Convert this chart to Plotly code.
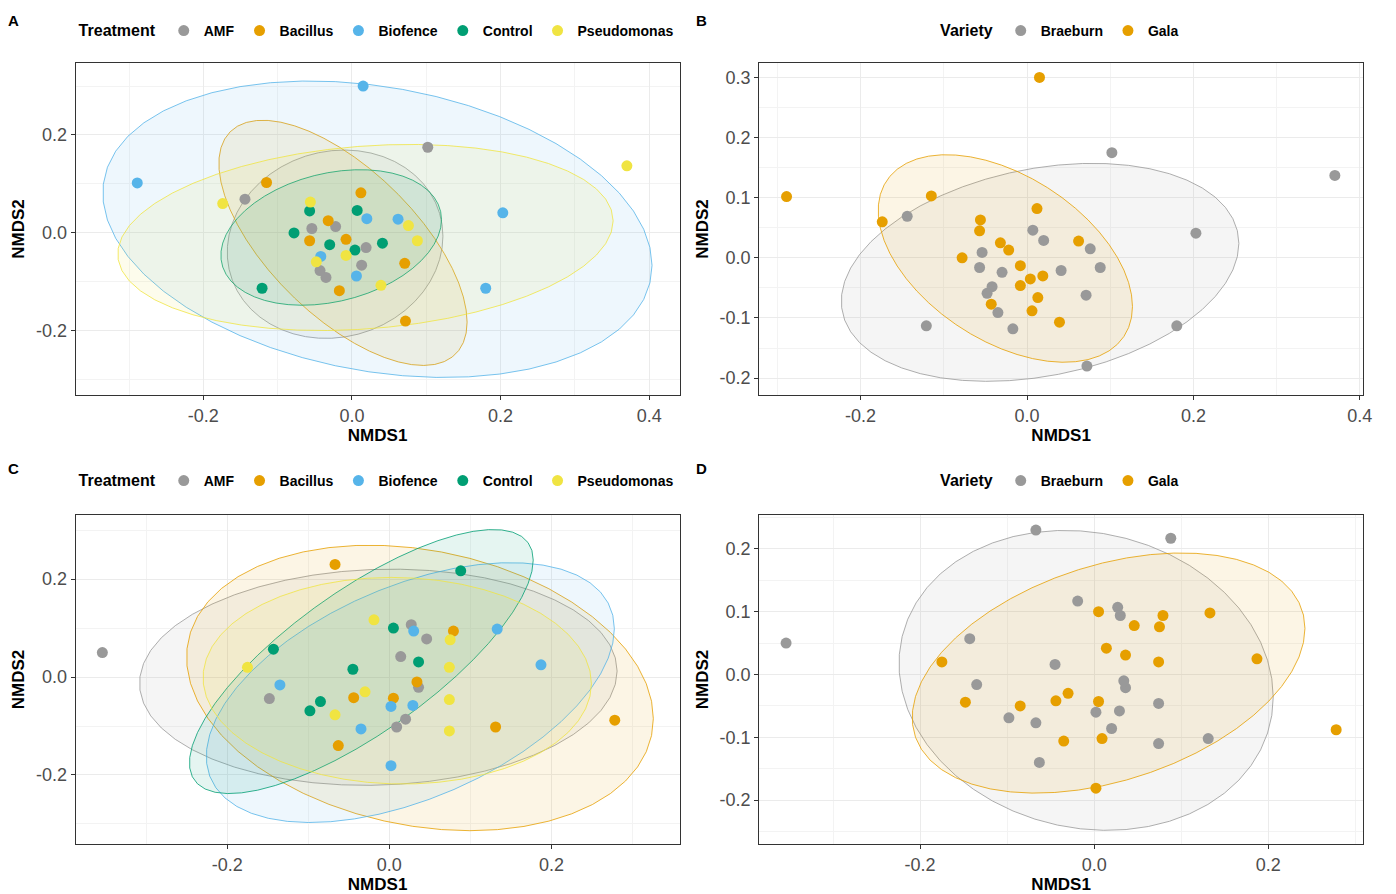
import numpy as np
import plotly.graph_objects as go

# ---------------- data ----------------
treatments = ["AMF", "Bacillus", "Biofence", "Control", "Pseudomonas"]
treat_colors = ["#999999", "#E69F00", "#56B4E9", "#009E73", "#F0E442"]
varieties = ["Braeburn", "Gala"]
var_colors = ["#999999", "#E69F00"]

# Panels A / B (same ordination, coloured by treatment / variety)
ab_nmds1 = [0.015, -0.289, -0.115, -0.174, -0.144, 0.012, -0.056, -0.057, 0.007, 0.020,
            -0.032, -0.022, -0.054, -0.078, -0.057, -0.030, -0.008, 0.004, 0.019, 0.041,
            -0.008, -0.042, -0.048, 0.013, -0.043, -0.035, 0.006, -0.017, 0.039, -0.121,
            0.102, 0.370, 0.203, 0.062, 0.076, 0.088, 0.071, 0.180, 0.072]
ab_nmds2 = [0.300, 0.102, 0.103, 0.060, 0.069, 0.082, 0.063, 0.045, 0.046, 0.029,
            0.025, 0.013, 0.009, 0.000, -0.016, -0.024, -0.013, -0.035, -0.030, -0.021,
            -0.046, -0.048, -0.059, -0.066, -0.077, -0.091, -0.088, -0.118, -0.107, -0.113,
            0.175, 0.137, 0.041, 0.028, 0.015, -0.016, -0.062, -0.113, -0.180]
ab_treatment = ["Biofence", "Biofence", "Bacillus", "Pseudomonas", "AMF", "Bacillus", "Pseudomonas",
                "Control", "Control", "Biofence", "Bacillus", "AMF", "AMF", "Control", "Bacillus",
                "Control", "Bacillus", "Control", "AMF", "Control", "Pseudomonas", "Biofence",
                "Pseudomonas", "AMF", "AMF", "AMF", "Biofence", "Bacillus", "Pseudomonas", "Control",
                "AMF", "Pseudomonas", "Biofence", "Biofence", "Pseudomonas", "Pseudomonas",
                "Bacillus", "Biofence", "Bacillus"]
ab_variety = ["Gala", "Gala", "Gala", "Gala", "Braeburn", "Gala", "Gala", "Gala", "Braeburn",
              "Braeburn", "Gala", "Gala", "Braeburn", "Gala", "Braeburn", "Braeburn", "Gala", "Gala",
              "Gala", "Braeburn", "Gala", "Braeburn", "Braeburn", "Gala", "Gala", "Braeburn", "Gala",
              "Braeburn", "Gala", "Braeburn", "Braeburn", "Braeburn", "Braeburn", "Gala", "Braeburn",
              "Braeburn", "Braeburn", "Braeburn", "Braeburn"]

# Panels C / D
cd_nmds1 = [-0.354, -0.148, 0.027, 0.046, 0.014, 0.036, 0.020, 0.009,
            -0.067, -0.044, -0.063, 0.079, 0.034, 0.005, 0.131, 0.278,
            -0.135, -0.035, 0.133, 0.030, 0.187, 0.002, 0.029, 0.002,
            -0.143, -0.045, -0.085, -0.098, 0.088, 0.005, 0.036,
            -0.019, -0.175, -0.030, -0.067, 0.075, 0.074, 0.074, 0.074]
cd_nmds2 = [0.050, -0.044, 0.107, 0.078, 0.042, -0.021, -0.086, -0.102,
            0.230, -0.042, -0.140, 0.094, -0.010, -0.043, -0.102, -0.088,
            -0.016, -0.106, 0.098, 0.094, 0.025, -0.060, -0.058, -0.181,
            0.057, 0.016, -0.050, -0.069, 0.217, 0.100, 0.031,
            0.117, 0.020, -0.030, -0.077, 0.076, 0.020, -0.046, -0.110]
cd_treatment = (["AMF"] * 8 + ["Bacillus"] * 8 + ["Biofence"] * 8 + ["Control"] * 7
                + ["Pseudomonas"] * 8)
cd_variety = ["Braeburn", "Gala", "Braeburn", "Gala", "Gala", "Braeburn", "Braeburn", "Gala",
              "Braeburn", "Gala", "Braeburn", "Gala", "Braeburn", "Gala", "Braeburn", "Gala",
              "Braeburn", "Gala", "Gala", "Braeburn", "Gala", "Braeburn", "Braeburn", "Gala",
              "Braeburn", "Braeburn", "Gala", "Braeburn", "Braeburn", "Gala", "Gala",
              "Braeburn", "Gala", "Gala", "Braeburn", "Gala", "Gala", "Braeburn", "Braeburn"]


# ---------------- stat_ellipse (type = "t", level = 0.95) ----------------
def cov_trob(X, nu=5, maxit=25, tol=0.01):
    n, p = X.shape
    wt = np.ones(n)
    loc = X.mean(axis=0)
    w = np.sqrt(wt)
    Xc = X - loc
    for _ in range(maxit):
        w0 = w
        Xc = X - loc
        _, d, Vt = np.linalg.svd(np.sqrt(w / w.sum())[:, None] * Xc, full_matrices=False)
        wX = Xc @ Vt.T @ np.diag(1.0 / d)
        Q = (wX ** 2).sum(axis=1)
        w = (wt * (nu + p)) / (nu + Q)
        loc = (w[:, None] * X).sum(axis=0) / w.sum()
        if np.all(np.abs(w - w0) < tol):
            break
    sw = np.sqrt(w)[:, None] * Xc
    cov = sw.T @ sw / wt.sum()
    return loc, cov


def stat_ellipse(x, y, level=0.95, segments=51):
    X = np.column_stack([x, y]).astype(float)
    n = len(X)
    center, shape = cov_trob(X)
    U = np.linalg.cholesky(shape).T
    dfd = n - 1
    fq = (dfd / 2.0) * ((1 - level) ** (-2.0 / dfd) - 1)  # qf(level, 2, dfd)
    radius = np.sqrt(2 * fq)
    ang = np.arange(segments + 1) * 2 * np.pi / segments
    circ = np.column_stack([np.cos(ang), np.sin(ang)])
    e = center + radius * (circ @ U)
    return e[:, 0], e[:, 1]


def rgba(hexc, a):
    h = hexc.lstrip("#")
    return "rgba(%d,%d,%d,%.3f)" % (int(h[0:2], 16), int(h[2:4], 16), int(h[4:6], 16), a)


FONT = "Liberation Sans, Arial, sans-serif"

panels = [
    dict(x=ab_nmds1, y=ab_nmds2, g=ab_treatment, levels=treatments, colors=treat_colors,
         title="Treatment", xa="x", ya="y", leg="legend"),
    dict(x=ab_nmds1, y=ab_nmds2, g=ab_variety, levels=varieties, colors=var_colors,
         title="Variety", xa="x2", ya="y2", leg="legend2"),
    dict(x=cd_nmds1, y=cd_nmds2, g=cd_treatment, levels=treatments, colors=treat_colors,
         title="Treatment", xa="x3", ya="y3", leg="legend3"),
    dict(x=cd_nmds1, y=cd_nmds2, g=cd_variety, levels=varieties, colors=var_colors,
         title="Variety", xa="x4", ya="y4", leg="legend4"),
]

fig = go.Figure()
for p in panels:
    xs = np.array(p["x"]); ys = np.array(p["y"]); gs = np.array(p["g"])
    for lev, col in zip(p["levels"], p["colors"]):
        m = gs == lev
        ex, ey = stat_ellipse(xs[m], ys[m])
        fig.add_trace(go.Scatter(x=ex, y=ey, mode="lines", fill="toself",
                                 fillcolor=rgba(col, 0.10), line=dict(color=col, width=0.8),
                                 showlegend=False, hoverinfo="skip",
                                 xaxis=p["xa"], yaxis=p["ya"]))
    for lev, col in zip(p["levels"], p["colors"]):
        m = gs == lev
        fig.add_trace(go.Scatter(x=xs[m], y=ys[m], mode="markers", name="<b>%s</b>" % lev,
                                 marker=dict(color=col, size=11),
                                 legend=p["leg"], xaxis=p["xa"], yaxis=p["ya"]))

colx = [[0.0545, 0.4900], [0.5473, 0.9828]]
rowy = [[0.5582, 0.9295], [0.0559, 0.4239]]
ranges = [([-0.372, 0.441], [-0.331, 0.347], 0.2, 0.2),
          ([-0.322, 0.404], [-0.228, 0.324], 0.2, 0.1),
          ([-0.387, 0.358], [-0.341, 0.331], 0.2, 0.2),
          ([-0.385, 0.309], [-0.270, 0.254], 0.2, 0.1)]


def ticks(rng, step):
    lo = np.ceil(rng[0] / step - 1e-9) * step
    vals = np.arange(lo, rng[1] + 1e-9, step)
    vals = np.round(vals, 6)
    txt = [("%.1f" % v).replace("-0.0", "0.0") for v in vals]
    mvals = np.round(np.arange(lo - step / 2, rng[1] + 1e-9, step), 6)
    return list(vals), txt, list(mvals)


layout = dict(
    width=1396, height=894, margin=dict(l=0, r=0, t=0, b=0),
    paper_bgcolor="white", plot_bgcolor="white",
    font=dict(family=FONT, color="black"),
)
for i in range(4):
    r, c = divmod(i, 2)
    xr, yr, xs_, ys_ = ranges[i]
    sfx = "" if i == 0 else str(i + 1)
    tvx, ttx, mvx = ticks(xr, xs_)
    tvy, tty, mvy = ticks(yr, ys_)
    common = dict(showline=True, mirror=True, linecolor="#333333", linewidth=1,
                  ticks="outside", ticklen=4, tickcolor="#333333", tickwidth=1,
                  showgrid=True, gridcolor="#EBEBEB", gridwidth=1, zeroline=False,
                  tickfont=dict(family=FONT, size=18, color="#4D4D4D"),
                  tickmode="array")
    layout["xaxis" + sfx] = dict(common, domain=colx[c], range=xr, anchor="y" + sfx,
                                 tickvals=tvx, ticktext=ttx,
                                 minor=dict(tickvals=mvx, showgrid=True, gridcolor="#F3F3F3",
                                            gridwidth=0.6, ticks=""),
                                 title=dict(text="<b>NMDS1</b>", standoff=2,
                                            font=dict(family=FONT, size=17, color="black")))
    layout["yaxis" + sfx] = dict(common, domain=rowy[r], range=yr, anchor="x" + sfx,
                                 tickvals=tvy, ticktext=tty,
                                 minor=dict(tickvals=mvy, showgrid=True, gridcolor="#F3F3F3",
                                            gridwidth=0.6, ticks=""),
                                 title=dict(text="<b>NMDS2</b>", standoff=6,
                                            font=dict(family=FONT, size=17, color="black")))

legend_y = [0.9653, 0.9653, 0.462, 0.462]
for i, p in enumerate(panels):
    r, c = divmod(i, 2)
    key = "legend" if i == 0 else "legend%d" % (i + 1)
    layout[key] = dict(orientation="h", x=(colx[c][0] + colx[c][1]) / 2, xanchor="center",
                       y=legend_y[i], yanchor="middle", bgcolor="rgba(0,0,0,0)",
                       title=dict(text="<b>%s</b>" % p["title"], side="left",
                                  font=dict(family=FONT, size=16, color="black")),
                       font=dict(family=FONT, size=14, color="black"),
                       itemwidth=30, tracegroupgap=0)

letters = ["A", "B", "C", "D"]
letter_xy = [(14, 20), (706, 20), (14, 468), (706, 468)]
ann = []
for L, (px, py) in zip(letters, letter_xy):
    ann.append(dict(text="<b>%s</b>" % L, x=px / 1396, y=1 - py / 894, xref="paper", yref="paper",
                    showarrow=False, xanchor="center", yanchor="middle",
                    font=dict(family=FONT, size=15, color="black")))
layout["annotations"] = ann

fig.update_layout(**layout)
fig.write_html("out.html")
